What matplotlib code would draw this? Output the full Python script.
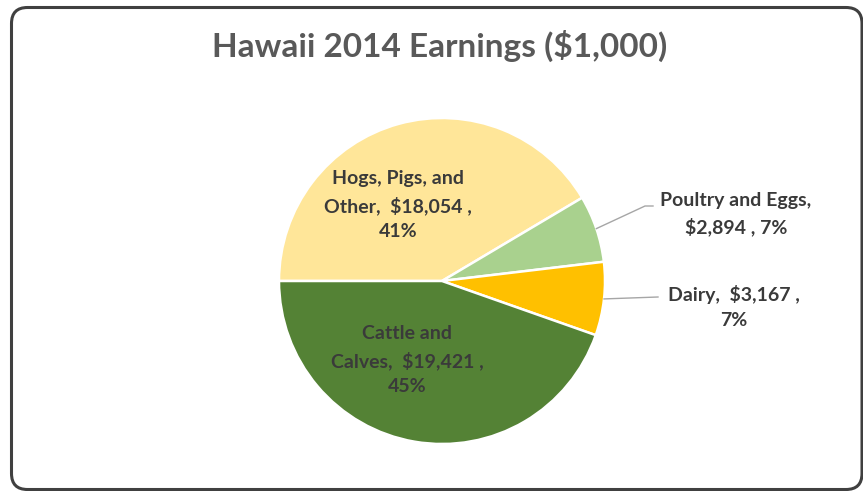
import numpy as np
import matplotlib.pyplot as plt
from matplotlib.patches import FancyBboxPatch

# earnings in $1,000, clockwise from the 9 o'clock position
categories = ["Hogs, Pigs, and Other", "Poultry and Eggs", "Dairy", "Cattle and Calves"]
earnings = [18054, 2894, 3167, 19421]
colors = ["#FFE699", "#A9D18E", "#FFC000", "#548235"]

total = sum(earnings)
pcts = [round(v / total * 100) for v in earnings]

plt.rcParams['font.family'] = ['Lato', 'DejaVu Sans']

W, H = 863, 491
fig = plt.figure(figsize=(W / 100, H / 100), dpi=100)
ax = fig.add_axes([0, 0, 1, 1])

# chart frame
frame = FancyBboxPatch((11.5, 1.5), 850.5, 482, boxstyle="round,pad=0,rounding_size=16",
                       fc="white", ec="#404040", lw=2.2, zorder=0)
ax.add_patch(frame)

cx, cy, r = 442, 210, 163
wedges, _ = ax.pie(earnings, colors=colors, startangle=180, counterclock=False,
                   center=(cx, cy), radius=r, frame=True,
                   wedgeprops=dict(edgecolor="white", linewidth=1.8))
ax.set_xlim(0, W)
ax.set_ylim(0, H)
ax.set_aspect('equal')
ax.axis('off')

txt = dict(color="#3A3A3A", fontsize=14, fontweight="bold", ha="center", va="center",
           linespacing=1.55)

def money(v):
    return f"${v:,}"

# inside labels
ax.text(398, H - 205, f"Hogs, Pigs, and\nOther,  {money(earnings[0])} ,\n{pcts[0]}%", **txt)
ax.text(407, H - 360, f"Cattle and\nCalves,  {money(earnings[3])} ,\n{pcts[3]}%", **txt)

# outside labels with leader lines
ax.text(736, H - 214, f"Poultry and Eggs,\n{money(earnings[1])} , {pcts[1]}%", **txt)
ax.text(734, H - 307, f"Dairy,  {money(earnings[2])} ,\n{pcts[2]}%", **txt)

def edge_point(w, frac=0.5):
    ang = np.deg2rad(w.theta1 + (w.theta2 - w.theta1) * frac)
    return cx + r * np.cos(ang), cy + r * np.sin(ang)

x0, y0 = edge_point(wedges[1])
ax.plot([x0, 645, 653], [y0, H - 206, H - 206], color="#A6A6A6", lw=1.0)
x0, y0 = edge_point(wedges[2])
ax.plot([x0, 658], [y0, H - 297], color="#A6A6A6", lw=1.0)

ax.text(440, H - 46, "Hawaii 2014 Earnings ($1,000)", color="#595959",
        fontsize=24, fontweight="bold", ha="center", va="center")

fig.savefig("out.png", dpi=100)
